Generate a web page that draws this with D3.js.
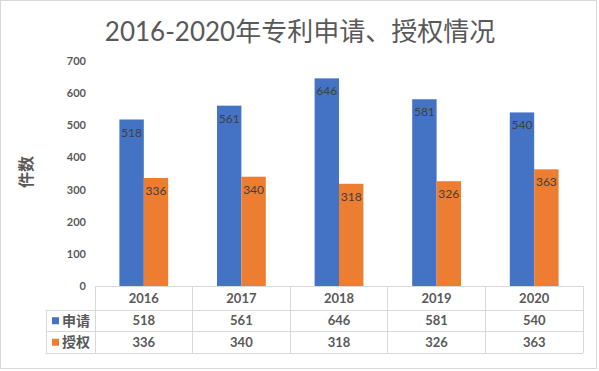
<!DOCTYPE html>
<html>
<head>
<meta charset="utf-8">
<script src="https://cdn.jsdelivr.net/npm/d3@7"></script>
<style>
  body { margin: 0; background: #fff; }
  svg { display: block; font-family: "Noto Sans CJK SC", sans-serif; }
</style>
</head>
<body>
<div id="chart"></div>
<script>
// data
var years = ["2016", "2017", "2018", "2019", "2020"];
var seriesNames = ["申请", "授权"];
var applied = [518, 561, 646, 581, 540];
var granted = [336, 340, 318, 326, 363];
var yTicks = [0, 100, 200, 300, 400, 500, 600, 700];
var colors = ["#4472c4", "#ed7d31"];

var W = 599, H = 371;
var plot = {left: 95, right: 583, top: 61, bottom: 286};
var numFont = "Lato, 'Liberation Sans', sans-serif";

var svg = d3.select("#chart").append("svg")
    .attr("width", W)
    .attr("height", H);

// outer frame
svg.append("rect")
    .attr("x", 0.5).attr("y", 0.5)
    .attr("width", 596).attr("height", 368)
    .attr("fill", "#fff")
    .attr("stroke", "#d9d9d9");

// title
svg.append("text")
    .attr("x", 300).attr("y", 41)
    .attr("text-anchor", "middle")
    .style("font-size", "26px")
    .style("font-family", "Lato, 'Noto Sans CJK SC', sans-serif")
    .attr("fill", "#595959")
    .text("2016-2020年专利申请、授权情况");

var x = d3.scaleBand()
    .domain(years)
    .range([plot.left, plot.right]);

var xs = d3.scaleBand()
    .domain([0, 1])
    .range([0, x.bandwidth()])
    .paddingInner(0)
    .paddingOuter(1);

var y = d3.scaleLinear()
    .domain([0, 700])
    .range([plot.bottom, plot.top]);

// y axis labels
svg.append("g")
    .attr("transform", "translate(" + (plot.left - 9) + ",0)")
    .call(d3.axisLeft(y).tickValues(yTicks).tickSize(0).tickPadding(0))
    .call(function(g) {
      g.select(".domain").remove();
      g.selectAll("text")
        .attr("fill", "#595959")
        .style("font-size", "11px")
        .style("font-weight", "bold")
        .style("font-family", numFont);
    });

// y axis title
svg.append("text")
    .attr("transform", "translate(32,172) rotate(-90)")
    .attr("text-anchor", "middle")
    .attr("fill", "#595959")
    .style("font-size", "16px")
    .style("font-weight", "bold")
    .text("件数");

var series = [applied, granted];

series.forEach(function(vals, si) {
  var g = svg.append("g");
  g.selectAll("rect")
    .data(vals)
    .enter()
    .append("rect")
      .attr("x", function(d, i) { return x(years[i]) + xs(si); })
      .attr("y", function(d) { return y(d); })
      .attr("width", xs.bandwidth())
      .attr("height", function(d) { return y(0) - y(d); })
      .attr("fill", colors[si]);

  g.selectAll("text")
    .data(vals)
    .enter()
    .append("text")
      .attr("x", function(d, i) { return x(years[i]) + xs(si) + xs.bandwidth() / 2; })
      .attr("y", function(d) { return y(d) + 17; })
      .attr("text-anchor", "middle")
      .attr("fill", "#404040")
      .style("font-size", "12px")
      .style("font-family", numFont)
      .text(function(d) { return d; });
});

// data table
var rowY = [plot.bottom, 310, 331.5, 353];
var tableLeft = 46;
var grid = svg.append("g")
    .attr("stroke", "#d9d9d9")
    .attr("stroke-width", 1)
    .attr("shape-rendering", "crispEdges");

// horizontal lines
grid.append("line")
    .attr("x1", plot.left).attr("x2", plot.right)
    .attr("y1", rowY[0]).attr("y2", rowY[0]);
rowY.slice(1).forEach(function(ry) {
  grid.append("line")
    .attr("x1", tableLeft).attr("x2", plot.right)
    .attr("y1", ry).attr("y2", ry);
});
// vertical lines
grid.append("line")
    .attr("x1", tableLeft).attr("x2", tableLeft)
    .attr("y1", rowY[1]).attr("y2", rowY[3]);
years.forEach(function(yr) {
  grid.append("line")
    .attr("x1", x(yr)).attr("x2", x(yr))
    .attr("y1", rowY[0]).attr("y2", rowY[3]);
});
grid.append("line")
    .attr("x1", plot.right).attr("x2", plot.right)
    .attr("y1", rowY[0]).attr("y2", rowY[3]);

// header row
svg.append("g").selectAll("text")
  .data(years)
  .enter()
  .append("text")
    .attr("x", function(d) { return x(d) + x.bandwidth() / 2; })
    .attr("y", (rowY[0] + rowY[1]) / 2 + 4.5)
    .attr("text-anchor", "middle")
    .attr("fill", "#595959")
    .style("font-size", "13px")
    .style("font-weight", "bold")
    .style("font-family", numFont)
    .text(function(d) { return d; });

series.forEach(function(vals, si) {
  var cy = (rowY[si + 1] + rowY[si + 2]) / 2;
  // legend key + name
  svg.append("rect")
    .attr("x", 52).attr("y", cy - 3.5)
    .attr("width", 7).attr("height", 7)
    .attr("fill", colors[si]);
  svg.append("text")
    .attr("x", 62).attr("y", cy + 5)
    .attr("fill", "#595959")
    .style("font-size", "14px")
    .style("font-weight", "bold")
    .text(seriesNames[si]);

  svg.append("g").selectAll("text")
    .data(vals)
    .enter()
    .append("text")
      .attr("x", function(d, i) { return x(years[i]) + x.bandwidth() / 2; })
      .attr("y", cy + 4.5)
      .attr("text-anchor", "middle")
      .attr("fill", "#595959")
      .style("font-size", "13px")
      .style("font-weight", "bold")
      .style("font-family", numFont)
      .text(function(d) { return d; });
});
</script>
</body>
</html>
